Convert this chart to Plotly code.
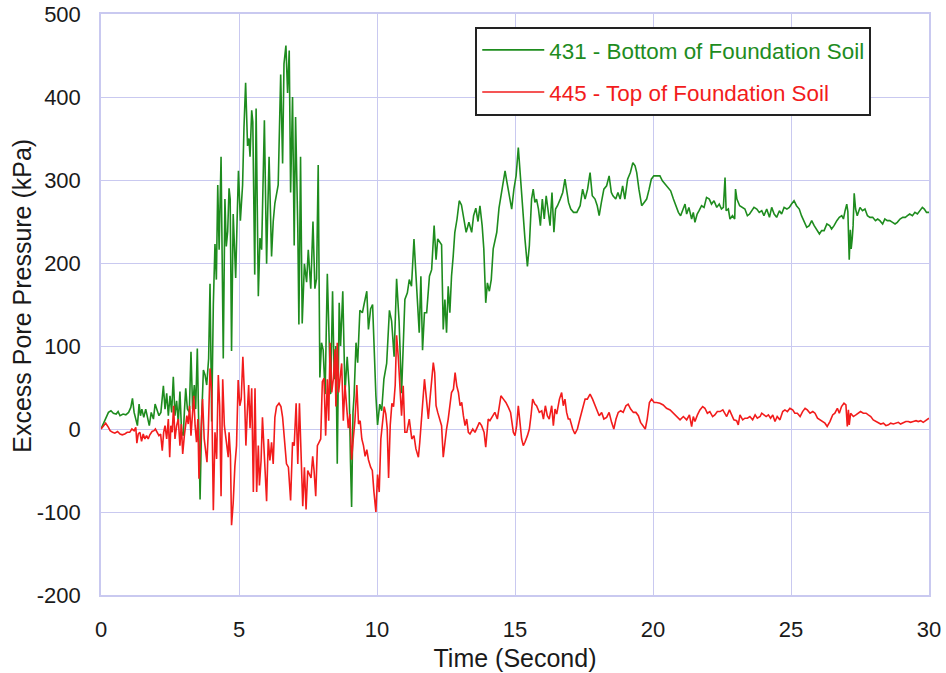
import plotly.graph_objects as go

# ---- data ----
t_431 = [0, 0.1, 0.17, 0.27, 0.36, 0.45, 0.55, 0.62, 0.69, 0.8, 0.9, 1.0, 1.08, 1.14, 1.2, 1.26, 1.32, 1.38,
         1.43, 1.48, 1.55, 1.62, 1.68, 1.75, 1.82, 1.9, 1.96, 2.03, 2.1, 2.17, 2.26, 2.32, 2.38, 2.44, 2.5,
         2.56, 2.62, 2.68, 2.74, 2.8, 2.86, 2.92, 2.98, 3.02, 3.07, 3.13, 3.2, 3.26, 3.32, 3.38, 3.43, 3.49,
         3.54, 3.59, 3.65, 3.71, 3.77, 3.83, 3.9, 3.95, 4.01, 4.07, 4.13, 4.18, 4.23, 4.28, 4.35, 4.43, 4.49,
         4.54, 4.59, 4.64, 4.68, 4.73, 4.79, 4.84, 4.88, 4.93, 4.98, 5.05, 5.13, 5.18, 5.24, 5.31, 5.36, 5.40,
         5.46, 5.50, 5.57, 5.62, 5.70, 5.76, 5.82, 5.92, 6.00, 6.04, 6.09, 6.18, 6.24, 6.30, 6.42, 6.51, 6.58,
         6.63, 6.70, 6.76, 6.82, 6.87, 6.94, 7.00, 7.05, 7.13, 7.17, 7.23, 7.29, 7.37, 7.45, 7.51, 7.60, 7.68,
         7.75, 7.81, 7.87, 7.93, 7.99, 8.05, 8.12, 8.20, 8.26, 8.32, 8.39, 8.45, 8.51, 8.56, 8.63, 8.68, 8.76,
         8.84, 8.92, 8.99, 9.04, 9.08, 9.13, 9.17, 9.24, 9.30, 9.38, 9.47, 9.53, 9.63, 9.69, 9.77, 9.84, 9.90,
         9.96, 10.02, 10.1, 10.17, 10.25, 10.35, 10.45, 10.53, 10.62, 10.71, 10.80, 10.89, 10.93, 11.01, 11.1,
         11.17, 11.25, 11.34, 11.40, 11.46, 11.53, 11.59, 11.65, 11.72, 11.80, 11.90, 11.98, 12.07, 12.14,
         12.2, 12.28, 12.34, 12.40, 12.46, 12.52, 12.58, 12.64, 12.70, 12.76, 12.82, 12.90, 12.98, 13.06,
         13.13, 13.23, 13.33, 13.43, 13.50, 13.58, 13.66, 13.73, 13.81, 13.87, 13.94, 14.00, 14.07, 14.14,
         14.21, 14.28, 14.34, 14.42, 14.49, 14.58, 14.64, 14.70, 14.80, 14.88, 14.96, 15.04, 15.12, 15.20,
         15.28, 15.36, 15.45, 15.52, 15.60, 15.66, 15.72, 15.78, 15.85, 15.92, 15.99, 16.06, 16.13, 16.27,
         16.34, 16.41, 16.47, 16.54, 16.64, 16.73, 16.81, 16.88, 16.94, 17.02, 17.12, 17.24, 17.36, 17.45,
         17.54, 17.63, 17.72, 17.80, 17.90, 17.98, 18.05, 18.13, 18.22, 18.32, 18.41, 18.49, 18.55, 18.65,
         18.73, 18.81, 18.90, 18.98, 19.08, 19.18, 19.27, 19.35, 19.41, 19.49, 19.59, 19.68, 19.77, 19.86,
         19.94, 20.03, 20.13, 20.25, 20.34, 20.44, 20.56, 20.64, 20.74, 20.83, 20.92, 21.00, 21.08, 21.16,
         21.22, 21.30, 21.40, 21.46, 21.52, 21.60, 21.67, 21.76, 21.85, 21.94, 22.04, 22.12, 22.21, 22.31,
         22.40, 22.48, 22.55, 22.61, 22.65, 22.73, 22.79, 22.88, 22.96, 22.99, 23.04, 23.14, 23.33, 23.42,
         23.50, 23.57, 23.66, 23.76, 23.85, 23.94, 24.02, 24.12, 24.22, 24.30, 24.39, 24.48, 24.58, 24.66,
         24.75, 24.85, 24.94, 25.02, 25.11, 25.20, 25.30, 25.38, 25.47, 25.57, 25.66, 25.75, 25.84, 25.94,
         26.03, 26.11, 26.20, 26.30, 26.40, 26.47, 26.56, 26.66, 26.75, 26.84, 26.90, 26.96, 27.02, 27.06,
         27.09, 27.11, 27.15, 27.18, 27.22, 27.25, 27.29, 27.34, 27.40, 27.50, 27.59, 27.68, 27.77, 27.86,
         27.96, 28.06, 28.14, 28.22, 28.32, 28.40, 28.49, 28.58, 28.68, 28.77, 28.85, 28.95, 29.05, 29.14,
         29.22, 29.30, 29.40, 29.49, 29.58, 29.67, 29.76, 29.83, 29.91, 30.00]
p_431 = [0, 8, 14, 20, 22, 19, 18, 21, 16, 18, 17, 20, 26, 37, 20, 12, 4, 30,
         16, 24, 14, 24, 16, 4, 20, 12, 30, 24, 16, 20, 52, 24, 43, 16, 40,
         20, 63, 16, 34, 8, 45, -4, -8, 20, 49, 24, 20, 93, 24, 53, 24, 97,
         20, -85, 16, 71, 65, 53, 85, 175, 9, 150, 223, 180, 294, 216, 328, 85, 277,
         220, 238, 290, 277, 94, 259, 210, 182, 250, 311, 251, 294, 363, 417, 341, 350, 328,
         384, 370, 186, 386, 160, 230, 216, 372, 199, 260, 328, 208, 250, 272, 294, 427, 320,
         440, 462, 405, 456, 285, 400, 221, 376, 242, 126, 328, 127, 199, 177, 216, 169, 250,
         169, 181, 318, 62, 104, 95, 42, 187, 95, 42, 166, 60, 100, -42, 152, 100, 166,
         44, 87, 50, -40, -94, 20, 40, 104, 80, 143, 140, 150, 166, 120, 145, 150, 79,
         40, 5, 30, 22, 60, 79, 143, 130, 87, 181, 130, 43, 85, 156, 164,
         180, 172, 229, 192, 156, 116, 184, 95, 140, 140, 184, 192, 245, 204,
         229, 225, 222, 120, 156, 116, 172, 140, 184, 208, 237, 253, 275, 270,
         257, 237, 249, 237, 257, 266, 250, 269, 245, 217, 152, 176, 166, 180,
         217, 229, 237, 266, 281, 301, 311, 299, 281, 265, 289, 305, 339, 301,
         265, 229, 196, 221, 277, 289, 273, 277, 265, 245, 277, 253, 281, 245,
         285, 237, 265, 269, 277, 285, 301, 285, 273, 265, 261, 261, 269, 289,
         277, 289, 309, 281, 277, 269, 257, 273, 289, 293, 305, 285, 281, 277,
         285, 277, 293, 277, 301, 309, 321, 317, 309, 289, 269, 273, 277, 289,
         301, 305, 305, 305, 299, 295, 289, 287, 277, 269, 261, 257, 263, 271,
         259, 267, 253, 261, 249, 259, 263, 269, 267, 279, 277, 271, 275, 267,
         271, 265, 267, 303, 263, 265, 253, 257, 253, 289, 277, 269, 265, 257,
         259, 263, 267, 265, 261, 263, 257, 265, 255, 267, 259, 255, 263, 259,
         267, 265, 267, 271, 275, 269, 265, 257, 251, 243, 245, 251, 245, 239,
         235, 239, 239, 247, 245, 241, 245, 251, 255, 257, 253, 263, 271, 262,
         237, 204, 240, 217, 230, 245, 284, 265, 257, 267, 263, 265, 257, 255,
         255, 251, 253, 251, 247, 253, 251, 251, 249, 247, 249, 253, 255, 255,
         257, 259, 257, 261, 259, 263, 267, 265, 261, 261]

t_445 = [0, 0.1, 0.17, 0.27, 0.33, 0.42, 0.5, 0.6, 0.69, 0.77, 0.86, 0.95, 1.04, 1.12, 1.2, 1.26, 1.30,
         1.35, 1.41, 1.47, 1.53, 1.59, 1.65, 1.71, 1.77, 1.85, 1.92, 1.97, 2.04, 2.1, 2.16, 2.22, 2.27, 2.32,
         2.38, 2.44, 2.49, 2.53, 2.58, 2.63, 2.68, 2.74, 2.8, 2.86, 2.91, 2.96, 3.02, 3.07, 3.11, 3.16, 3.21,
         3.26, 3.31, 3.36, 3.41, 3.46, 3.51, 3.55, 3.62, 3.68, 3.74, 3.84, 3.89, 3.95, 4.01, 4.07, 4.13, 4.19,
         4.25, 4.30, 4.35, 4.41, 4.47, 4.53, 4.61, 4.64, 4.69, 4.73, 4.79, 4.85, 4.91, 4.97, 5.03, 5.08, 5.14,
         5.20, 5.25, 5.30, 5.35, 5.40, 5.46, 5.52, 5.58, 5.64, 5.70, 5.74, 5.80, 5.85, 5.92, 6.00, 6.06, 6.12,
         6.18, 6.24, 6.30, 6.36, 6.45, 6.52, 6.58, 6.64, 6.72, 6.79, 6.87, 6.94, 7.00, 7.07, 7.13, 7.19, 7.25,
         7.31, 7.37, 7.43, 7.49, 7.55, 7.61, 7.67, 7.72, 7.78, 7.84, 7.90, 7.96, 8.02, 8.08, 8.14, 8.20, 8.25,
         8.30, 8.36, 8.42, 8.48, 8.51, 8.56, 8.61, 8.66, 8.72, 8.78, 8.84, 8.90, 8.96, 9.02, 9.08, 9.14, 9.20,
         9.27, 9.33, 9.39, 9.45, 9.51, 9.57, 9.63, 9.69, 9.77, 9.83, 9.89, 9.96, 10.02, 10.08, 10.14, 10.20,
         10.26, 10.32, 10.37, 10.42, 10.48, 10.54, 10.60, 10.66, 10.71, 10.77, 10.83, 10.89, 10.95, 11.01,
         11.08, 11.17, 11.26, 11.34, 11.41, 11.50, 11.55, 11.65, 11.72, 11.78, 11.86, 11.92, 11.98, 12.04,
         12.09, 12.14, 12.20, 12.28, 12.34, 12.40, 12.46, 12.52, 12.58, 12.64, 12.70, 12.77, 12.83, 12.89,
         12.95, 13.01, 13.07, 13.13, 13.19, 13.25, 13.31, 13.37, 13.47, 13.55, 13.64, 13.71, 13.79, 13.88,
         13.94, 14.00, 14.03, 14.09, 14.19, 14.27, 14.36, 14.43, 14.49, 14.58, 14.67, 14.76, 14.84, 14.94,
         15.00, 15.06, 15.12, 15.18, 15.24, 15.30, 15.36, 15.45, 15.52, 15.58, 15.64, 15.72, 15.78, 15.88,
         15.97, 16.03, 16.10, 16.17, 16.24, 16.33, 16.39, 16.45, 16.51, 16.61, 16.69, 16.75, 16.81, 16.87,
         16.93, 16.99, 17.09, 17.17, 17.26, 17.35, 17.45, 17.54, 17.62, 17.72, 17.81, 17.90, 17.98, 18.05,
         18.14, 18.22, 18.32, 18.41, 18.50, 18.58, 18.66, 18.74, 18.83, 18.92, 19.02, 19.10, 19.19, 19.29,
         19.38, 19.47, 19.55, 19.65, 19.72, 19.79, 19.87, 19.95, 20.04, 20.13, 20.25, 20.37, 20.49, 20.62,
         20.74, 20.86, 20.98, 21.10, 21.22, 21.32, 21.40, 21.46, 21.52, 21.61, 21.70, 21.80, 21.88, 21.97,
         22.06, 22.16, 22.24, 22.33, 22.43, 22.53, 22.61, 22.67, 22.77, 22.85, 22.93, 23.03, 23.09, 23.15,
         23.25, 23.33, 23.42, 23.51, 23.61, 23.70, 23.78, 23.88, 23.94, 24.02, 24.10, 24.18, 24.26, 24.34,
         24.42, 24.50, 24.60, 24.70, 24.78, 24.87, 24.96, 25.06, 25.14, 25.23, 25.33, 25.42, 25.51, 25.59,
         25.69, 25.79, 25.87, 25.96, 26.05, 26.15, 26.23, 26.31, 26.41, 26.51, 26.59, 26.68, 26.75, 26.83,
         26.92, 26.99, 27.04, 27.08, 27.11, 27.16, 27.26, 27.35, 27.44, 27.52, 27.62, 27.72, 27.80, 27.89,
         27.98, 28.08, 28.16, 28.25, 28.35, 28.44, 28.53, 28.61, 28.71, 28.80, 28.89, 28.97, 29.07, 29.16,
         29.25, 29.33, 29.43, 29.53, 29.61, 29.70, 29.79, 29.89, 30.00]
p_445 = [0, 5, 7, 2, -2, -4, -5, -3, -6, -7, -6, -4, -4, 0, -2, 2, -17,
         -6, -4, -15, -6, -12, -8, -12, -7, -3, -2, 0, -4, -8, -6, -26, -4, 4,
         -12, 12, -34, 4, -4, 28, -12, 4, 12, -20, 6, -30, -8, 4, 16, 6, 28,
         -8, 20, 40, 4, -16, 12, -60, -4, 36, -12, -40, 0, 73, 45, -98, -4, -36,
         65, 28, -81, 60, 4, -12, -34, -4, -32, -116, -89, -45, -20, 59, 28, 36, 87,
         40, -20, 20, 53, 1, 49, -76, 49, -76, -20, -68, -38, 14, -42, -87, -12, -38,
         -16, -42, 14, 27, 31, 27, 14, -8, -42, -46, -86, -16, -20, 31, -42, 31, -42,
         -93, -46, -97, -50, -55, -59, -33, -50, -81, -20, -16, -12, 57, 61, -8, 60, 10,
         104, 44, 61, 96, 27, 104, 44, 61, 79, 10, 53, 27, 1, 18, -37, -12, 10,
         53, 6, 10, -12, -20, -33, -25, -37, -46, -50, -76, -100, -55, -76, -12, 10,
         27, 18, 1, -59, 5, 31, 27, 53, 113, 87, 44, 16, 52, -4,
         -4, 12, -12, -8, -24, -34, -16, 36, 60, 40, 12, 36, 64, 80,
         68, 28, 20, 12, 4, -34, -12, 0, 12, 28, 44, 48, 68, 52,
         44, 28, 32, 16, 4, 12, -4, -6, 0, -4, 4, 8, 4, -4,
         -22, -4, 12, 10, 16, 20, 12, 28, 40, 36, 32, 26, 20, -4,
         -8, 4, 28, 8, -12, -20, -16, -8, 0, 16, 36, 30, 28, 20,
         22, 12, 28, 16, 12, 28, 4, 24, 18, 36, 44, 28, 36, 20,
         12, 12, 0, -6, 0, 12, 24, 36, 36, 42, 36, 28, 20, 16,
         20, 12, 14, 20, 8, 0, 12, 20, 22, 20, 28, 30, 24, 20,
         20, 16, 8, 4, 0, 12, 32, 36, 32, 32, 31, 29, 25, 23,
         19, 15, 11, 15, 11, 17, 3, 15, 9, 17, 23, 27, 25, 19,
         21, 15, 17, 21, 21, 23, 19, 15, 23, 17, 11, 10, 5, 17,
         11, 13, 13, 15, 11, 17, 13, 15, 19, 17, 15, 17, 13, 17,
         9, 15, 11, 21, 23, 21, 25, 23, 19, 19, 15, 21, 25, 23,
         19, 21, 19, 13, 11, 9, 7, 3, 9, 17, 19, 25, 19, 27,
         31, 29, 3, 23, 5, 19, 15, 17, 19, 21, 19, 19, 17, 15,
         11, 9, 7, 6, 7, 4, 5, 7, 6, 7, 8, 6, 8, 9,
         9, 8, 9, 10, 9, 10, 8, 10, 13]

x_ticks = [0, 5, 10, 15, 20, 25, 30]
y_ticks = [-200, -100, 0, 100, 200, 300, 400, 500]
y_ticktext = ["-200", "-100", "0", "100", "200", "300", "400", "500"]

name_431 = "431 - Bottom of Foundation Soil"
name_445 = "445 - Top of Foundation Soil"
x_title = "Time (Second)"
y_title = "Excess Pore Pressure (kPa)"
col_431 = "#1e8c1e"
col_445 = "#f21c1c"

grid_col = "#c9c9f0"
font_fam = "Liberation Sans, Arial, sans-serif"

fig = go.Figure()
fig.add_trace(go.Scatter(
    x=t_431, y=p_431, mode="lines", line=dict(color=col_431, width=1.6),
    name=f"<span style='color:{col_431}'>{name_431}</span>", legendgroup="a"))
fig.add_trace(go.Scatter(
    x=t_445, y=p_445, mode="lines", line=dict(color=col_445, width=1.6),
    name=f"<span style='color:{col_445}'>{name_445}</span>", legendgroup="b"))

fig.update_layout(
    width=946, height=673,
    margin=dict(l=101, r=17, t=14, b=78),
    paper_bgcolor="white", plot_bgcolor="white",
    font=dict(family=font_fam, size=22, color="#1a1a1a"),
    showlegend=True,
    legend=dict(
        x=0.452, y=0.978, xanchor="left", yanchor="top",
        bgcolor="white", bordercolor="#222222", borderwidth=2,
        font=dict(family=font_fam, size=22.4),
        traceorder="grouped", tracegroupgap=10,
        itemwidth=62,
    ),
    xaxis=dict(
        range=[0, 30], tickvals=x_ticks, ticks="", automargin=False,
        showgrid=True, gridcolor=grid_col, gridwidth=1,
        showline=True, linecolor=grid_col, linewidth=1.5, mirror=True,
        zeroline=False, ticklabelstandoff=14,
        tickfont=dict(size=22),
        title=dict(text=x_title, font=dict(size=25), standoff=8),
    ),
    yaxis=dict(
        range=[-200, 500], tickvals=y_ticks, ticktext=y_ticktext, ticks="", automargin=False,
        showgrid=True, gridcolor=grid_col, gridwidth=1,
        showline=True, linecolor=grid_col, linewidth=1.5, mirror=True,
        zeroline=False, ticklabelstandoff=14,
        tickfont=dict(size=22),
    ),
    annotations=[dict(
        text=y_title, xref="paper", yref="paper", x=-0.0954, y=0.515,
        xanchor="center", yanchor="middle", textangle=-90, showarrow=False,
        font=dict(family=font_fam, size=25, color="#1a1a1a"),
    )],
)

fig.write_html("out.html")
